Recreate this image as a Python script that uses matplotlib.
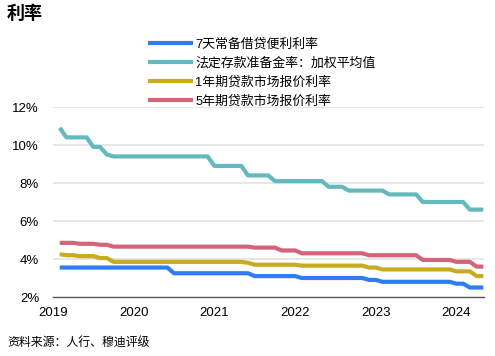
import numpy as np
import matplotlib
matplotlib.use("Agg")
import matplotlib.pyplot as plt

plt.rcParams['font.family'] = ['Liberation Sans', 'Noto Sans CJK SC']
plt.rcParams['axes.unicode_minus'] = False

# monthly data, Aug 2019 .. Nov 2024
slf_7d = [3.55] * 17 + [3.25] * 12 + [3.10] * 7 + [3.00] * 10 + [2.90] * 2 + [2.80] * 11 + [2.70] * 2 + [2.50] * 3
rrr_avg = [10.9] + [10.4] * 4 + [9.9] * 2 + [9.5] + [9.4] * 15 + [8.9] * 5 + [8.4] * 4 + [8.1] * 8 + [7.8] * 3 + [7.6] * 6 + [7.4] * 5 + [7.0] * 7 + [6.6] * 3
lpr_1y = [4.25] + [4.20] * 2 + [4.15] * 3 + [4.05] * 2 + [3.85] * 20 + [3.80] + [3.70] * 7 + [3.65] * 10 + [3.55] * 2 + [3.45] * 11 + [3.35] * 3 + [3.10] * 2
lpr_5y = [4.85] * 3 + [4.80] * 3 + [4.75] * 2 + [4.65] * 21 + [4.60] * 4 + [4.45] * 3 + [4.30] * 10 + [4.20] * 8 + [3.95] * 5 + [3.85] * 3 + [3.60] * 2

series_names = ['7天常备借贷便利利率', '法定存款准备金率：加权平均值', '1年期贷款市场报价利率', '5年期贷款市场报价利率']
colors = ['#2f7cf6', '#64b9bf', '#c9ab22', '#d4647a']
year_labels = ['2019', '2020', '2021', '2022', '2023', '2024']
year_pos = [-1, 11, 23, 35, 47, 59]  # month index of each year label
y_ticks = [2, 4, 6, 8, 10, 12]

fig = plt.figure(figsize=(4.95, 3.56), dpi=100)
ax = fig.add_axes([53 / 495, 1 - 297 / 356, 431 / 495, 190 / 356])

x = np.arange(len(slf_7d))
for vals, name, c in zip([slf_7d, rrr_avg, lpr_1y, lpr_5y], series_names, colors):
    ax.plot(x, vals, color=c, lw=3.0, label=name, solid_capstyle='butt', solid_joinstyle='round')

ax.set_xlim(-1, 63.1)
ax.set_ylim(2, 12)
ax.set_yticks(y_ticks)
ax.set_yticklabels([f'{v}%' for v in y_ticks], fontsize=9.5)
ax.set_xticks(year_pos)
ax.set_xticklabels(year_labels, fontsize=9.5)
ax.tick_params(axis='y', length=0, pad=10)
ax.tick_params(axis='x', length=0, pad=7)
for v in y_ticks[1:]:
    ax.axhline(v, color='#e3e3e3', lw=1.2, zorder=0)
for s in ['top', 'right', 'left']:
    ax.spines[s].set_visible(False)
ax.spines['bottom'].set_color('#555555')
ax.spines['bottom'].set_linewidth(1.0)

fig.legend(loc='upper left', bbox_to_anchor=(148 / 495, 1 - 38 / 356), frameon=False,
           fontsize=9.3, handlelength=3.5, handletextpad=0.15, labelspacing=0.5,
           borderpad=0, borderaxespad=0)

fig.text(7 / 495, 1 - 14 / 356, '利率', fontsize=13, fontweight='bold', va='center', ha='left')
fig.text(7 / 495, 1 - 343 / 356, '资料来源：人行、穆迪评级', fontsize=8.6, va='center', ha='left')

fig.savefig('out.png', dpi=100)
